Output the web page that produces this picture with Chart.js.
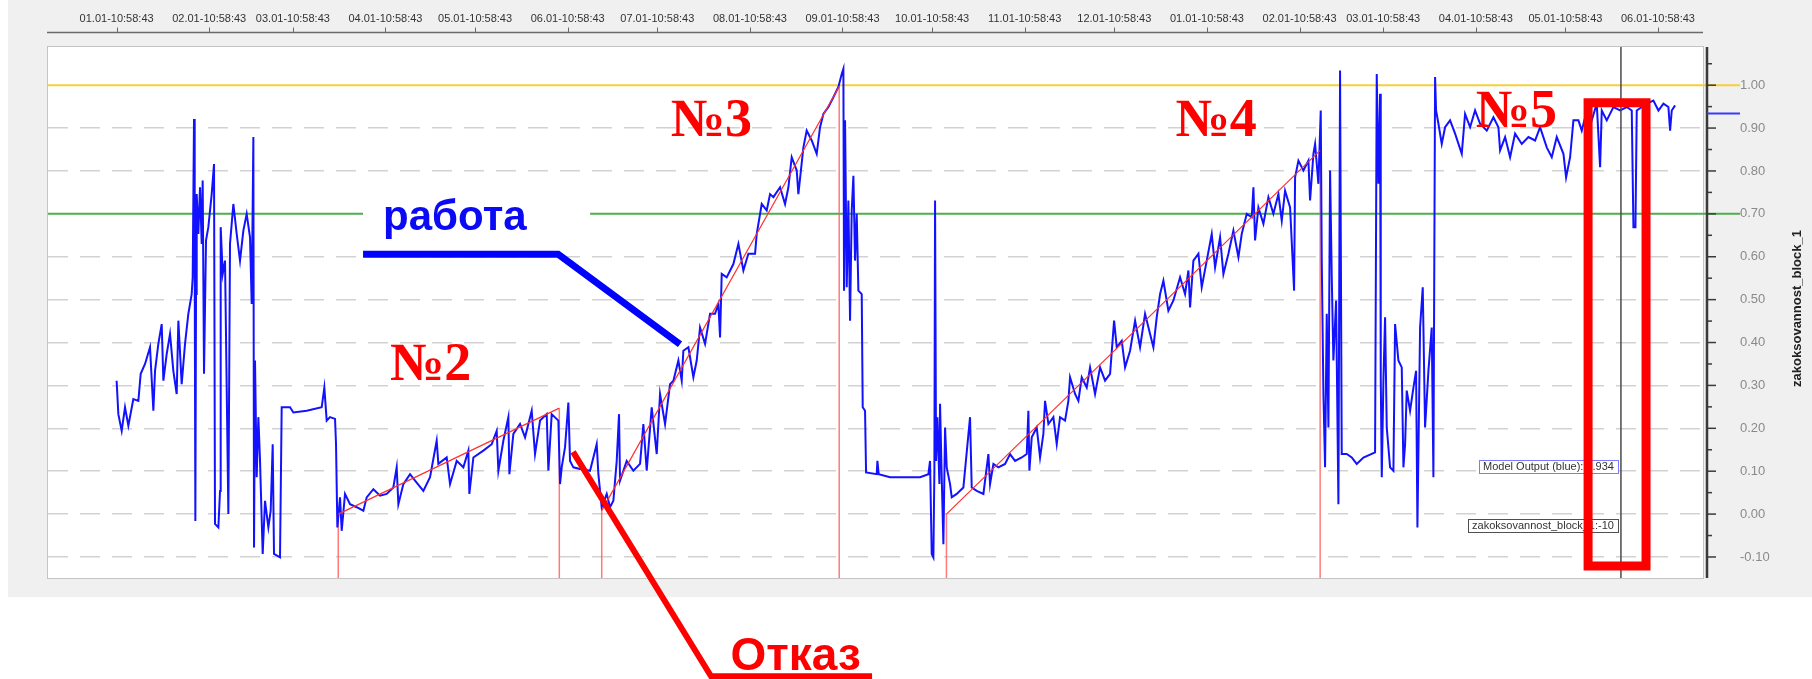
<!DOCTYPE html>
<html lang="ru">
<head>
  <meta charset="UTF-8">
  <title>zakoksovannost_block_1</title>
  <script src="https://cdn.jsdelivr.net/npm/chart.js"></script>
  <style>
    html, body { margin: 0; padding: 0; background: #fff; }
    canvas { display: block; }
  </style>
</head>
<body>
  <canvas id="chart" width="1812" height="679"></canvas>

  <script>
    // x is counted in days from the first "01.01-10:58:43" tick
    const monthLabels = [
      '01.01-10:58:43', '02.01-10:58:43', '03.01-10:58:43', '04.01-10:58:43', '05.01-10:58:43', '06.01-10:58:43',
      '07.01-10:58:43', '08.01-10:58:43', '09.01-10:58:43', '10.01-10:58:43', '11.01-10:58:43', '12.01-10:58:43',
      '01.01-10:58:43', '02.01-10:58:43', '03.01-10:58:43', '04.01-10:58:43', '05.01-10:58:43', '06.01-10:58:43'
    ];
    const monthDays = [0, 31, 59, 90, 120, 151, 181, 212, 243, 273, 304, 334, 365, 396, 424, 455, 485, 516];
    const yTicks = [-0.1, 0.0, 0.1, 0.2, 0.3, 0.4, 0.5, 0.6, 0.7, 0.8, 0.9, 1.0];

    const X_MIN = -22.97, X_MAX = 531.07;
    const Y_MIN = -0.149, Y_MAX = 1.089;

    // Model Output (blue)
    const outputDays = [
      0.00, 0.58, 1.70, 2.81, 3.93, 5.60, 7.28, 8.06, 9.51, 11.18, 12.30, 12.86, 13.97, 15.09, 15.65, 16.76,
      17.88, 18.99, 20.11, 20.67, 21.78, 22.90, 24.01, 25.13, 25.47, 25.91, 26.14, 26.36, 26.58, 26.81, 27.36,
      27.92, 28.48, 28.81, 29.26, 29.93, 30.71, 31.83, 32.61, 32.94, 34.06, 34.62, 34.84, 35.51, 36.29, 37.41,
      37.96, 39.08, 40.20, 41.31, 42.43, 43.54, 44.66, 45.22, 45.78, 46.00, 46.33, 46.89, 47.45, 48.01, 48.90,
      49.68, 50.80, 51.58, 52.25, 52.69, 54.70, 55.26, 58.05, 59.17, 63.63, 68.65, 69.54, 70.33, 71.44, 73.12,
      73.45, 73.90, 74.79, 75.35, 76.46, 78.14, 80.37, 82.60, 83.72, 85.95, 88.18, 90.41, 92.64, 93.76, 94.32,
      95.99, 98.23, 99.90, 102.69, 104.92, 107.15, 107.71, 110.50, 111.62, 113.85, 116.08, 117.75, 118.09,
      119.43, 122.77, 125.57, 127.24, 127.80, 129.47, 131.15, 131.48, 132.82, 135.05, 136.73, 138.96, 140.07,
      141.75, 143.98, 144.54, 145.65, 147.88, 148.44,
      149.00, 150.12, 151.23, 151.79, 152.91, 155.14, 158.49, 160.72, 161.28, 162.39, 164.07, 165.18, 166.30,
      167.42, 168.19, 168.53, 170.76, 172.99, 175.23, 176.34, 177.46, 179.13, 180.81, 181.92, 183.60, 185.27,
      186.39, 188.06, 189.18, 189.73, 191.41, 193.08, 194.20, 195.31, 196.99, 198.66, 200.33, 201.45, 202.01,
      202.57, 204.24, 206.47, 208.15, 209.82, 211.49, 213.73, 214.28, 215.96, 217.63, 218.75, 219.86, 222.10,
      223.77, 224.89, 226.00, 227.68, 228.23, 229.91, 231.02, 232.70, 234.37, 235.49, 236.60, 238.28, 239.95,
      241.62, 242.74, 243.30, 243.52, 243.86, 244.42, 244.97, 245.53, 246.09, 246.65, 247.20, 247.76, 248.32,
      249.44, 249.77, 250.55, 250.89, 254.46, 254.68, 255.13, 258.92, 268.97, 271.76, 272.31, 272.87, 273.43,
      273.76, 273.99, 274.32, 274.77, 275.44, 275.66, 276.22, 276.78, 277.34, 277.89, 279.01, 279.57, 281.24,
      283.47, 285.70, 286.26, 287.94, 290.17, 291.84, 292.40,
      293.52, 295.19, 297.42, 299.10, 300.77, 303.00, 304.68, 305.23, 305.57, 306.35, 308.02, 309.14, 310.25,
      310.81, 311.93, 313.60, 314.72, 315.83, 317.51, 318.62, 319.18, 320.86, 321.97, 323.09, 324.76, 325.88,
      327.55, 329.23, 330.90, 332.58, 333.92, 334.81, 336.48, 337.60, 339.27, 340.95, 342.62, 344.29, 345.97,
      347.08, 348.20, 349.32, 350.43, 352.10, 353.78, 356.01, 357.68, 358.80, 359.36, 360.47, 362.15, 363.26,
      364.94, 366.61, 367.73, 369.40, 370.52, 372.19, 373.86, 375.54, 376.65, 378.33, 380.00, 380.56, 381.12,
      382.23, 383.91, 385.58, 387.25, 388.93, 390.05, 391.16, 392.84, 394.18, 394.51, 395.63, 397.30, 398.97,
      399.53, 400.65, 401.21, 402.32, 403.10, 403.44, 404.00, 404.55, 405.11, 405.67, 406.23, 406.79, 407.34,
      408.24, 409.02, 409.57, 410.13, 411.81, 413.48, 415.15, 417.39, 421.29, 421.85, 422.41, 422.97, 423.19,
      423.53, 424.08, 424.64, 425.20, 426.31, 427.43, 427.99, 429.10, 430.22, 430.78, 431.34, 431.89, 433.01,
      434.13, 435.02, 435.47, 436.36, 437.25, 438.03, 439.15, 440.26, 440.82, 441.38,
      441.71, 442.50, 443.61, 444.73, 446.40, 448.08, 450.31, 451.42, 453.10, 454.77, 456.45, 458.68, 460.91,
      462.58, 463.14, 464.82, 466.49, 468.16, 470.40, 472.63, 474.86, 476.53, 478.76, 480.44, 482.11, 484.35,
      485.24, 486.58, 487.69, 489.37, 490.48, 492.16, 493.83, 495.50, 496.62, 497.18, 498.85, 501.08, 503.31,
      505.55, 507.22, 507.78, 508.45, 508.89, 510.57, 512.24, 514.47, 516.15, 517.82, 519.49, 520.05, 520.61,
      521.73
    ];
    const outputValues = [
      0.311, 0.233, 0.194, 0.249, 0.206, 0.268, 0.264, 0.327, 0.350, 0.389, 0.241, 0.334, 0.397, 0.443, 0.311, 0.373,
      0.420, 0.334, 0.280, 0.451, 0.303, 0.397, 0.467, 0.513, 0.552, 0.921, 0.591, -0.016, 0.513, 0.746, 0.653,
      0.762, 0.630, 0.778, 0.327, 0.638, 0.669, 0.746, 0.816, -0.023, -0.031, 0.054, 0.669, 0.560, 0.591, 0.000,
      0.630, 0.723, 0.653, 0.591, 0.661, 0.700, 0.645, 0.490, 0.879, -0.078, 0.358, 0.086, 0.226, 0.124, -0.093,
      0.031, -0.031, 0.008, 0.163, -0.093, -0.101, 0.249, 0.249, 0.237, 0.241, 0.249, 0.295, 0.218, 0.226, 0.222,
      0.163, -0.031, 0.039, -0.039, 0.047, 0.023, 0.016, 0.008, 0.039, 0.058, 0.043, 0.047, 0.062, 0.109, 0.023,
      0.070, 0.093, 0.078, 0.054, 0.086, 0.171, 0.117, 0.132, 0.070, 0.124, 0.109, 0.148, 0.047,
      0.132, 0.148, 0.163, 0.194, 0.101, 0.171, 0.226, 0.093, 0.187, 0.210, 0.179, 0.241, 0.140,
      0.218, 0.233, 0.101, 0.233, 0.218, 0.070,
      0.109, 0.156, 0.260, 0.124, 0.109, 0.105, 0.101, 0.163, 0.093, 0.016, 0.047, 0.016, 0.031,
      0.124, 0.233, 0.078, 0.124, 0.101, 0.117, 0.210, 0.101, 0.249, 0.140, 0.280, 0.210, 0.303,
      0.311, 0.358, 0.311, 0.381, 0.389, 0.319, 0.358, 0.435, 0.397, 0.467, 0.467, 0.490, 0.412,
      0.560, 0.552, 0.583, 0.630, 0.568, 0.607, 0.607, 0.653, 0.723, 0.708, 0.746, 0.739, 0.762,
      0.723, 0.762, 0.832, 0.801, 0.746, 0.855, 0.894, 0.871, 0.840, 0.902, 0.933, 0.949, 0.972,
      0.996, 1.026, 1.038, 0.521, 0.918, 0.529, 0.731, 0.451, 0.708, 0.789, 0.591, 0.700, 0.521,
      0.513, 0.249, 0.241, 0.097, 0.093, 0.124, 0.093, 0.086, 0.086, 0.093, 0.124, -0.093, -0.101,
      0.101, 0.731, 0.124, 0.226, 0.070, 0.257, 0.086, -0.070, 0.202, 0.109, 0.070, 0.039, 0.047,
      0.062, 0.226, 0.062, 0.054, 0.047, 0.140, 0.070,
      0.117, 0.109, 0.117, 0.140, 0.124, 0.132, 0.140, 0.241, 0.101, 0.179, 0.202, 0.132, 0.187,
      0.264, 0.210, 0.226, 0.163, 0.226, 0.218, 0.264, 0.319, 0.280, 0.264, 0.319, 0.295, 0.342,
      0.280, 0.342, 0.311, 0.327, 0.451, 0.389, 0.404, 0.342, 0.381, 0.451, 0.389, 0.467, 0.420,
      0.389, 0.459, 0.513, 0.544, 0.474, 0.498, 0.552, 0.513, 0.568, 0.482, 0.591, 0.607, 0.529,
      0.591, 0.653, 0.575, 0.645, 0.560, 0.607, 0.661, 0.599, 0.653, 0.700, 0.692, 0.762, 0.638,
      0.715, 0.677, 0.739, 0.700, 0.746, 0.684, 0.754, 0.715, 0.521, 0.785, 0.824, 0.801, 0.824,
      0.731, 0.840, 0.863, 0.770, 0.941, 0.591, 0.280, 0.109, 0.467, 0.202, 0.801, 0.552, 0.358,
      0.498, 0.023, 1.034, 0.140, 0.140, 0.132, 0.117, 0.132, 0.144, 1.026, 0.770, 0.980, 0.319,
      0.086, 0.311, 0.459, 0.202, 0.109, 0.101, 0.443, 0.358, 0.342, 0.109, 0.163, 0.288, 0.241,
      0.295, 0.334, -0.031, 0.435, 0.529, 0.202, 0.334, 0.435, 0.086, 1.019,
      0.941, 0.910, 0.863, 0.902, 0.918, 0.887, 0.840, 0.933, 0.902, 0.941, 0.910, 0.894, 0.925,
      0.902, 0.848, 0.879, 0.832, 0.887, 0.863, 0.879, 0.871, 0.902, 0.855, 0.832, 0.879, 0.840,
      0.785, 0.832, 0.918, 0.918, 0.894, 0.941, 0.918, 0.957, 0.809, 0.941, 0.918, 0.949, 0.941,
      0.949, 0.941, 0.669, 0.669, 0.941, 0.949, 0.957, 0.964, 0.941, 0.957, 0.949, 0.894, 0.941,
      0.953
    ];

    // red trend lines of runs №2, №3, №4 (start and end of each run)
    const runStartDays = [74.2, 162.4, 277.8];
    const runStartValues = [0.000, 0.008, 0.000];
    const runEndDays = [148.2, 241.9, 402.9];
    const runEndValues = [0.247, 0.997, 0.848];

    // yellow and green limit lines
    const limitValues = [1.0, 0.7];
    const limitColors = ['#f7cf3a', '#4caf4c'];
    const LIMIT_END = 543.5;   // lines run on through the axis up to the labels

    const cursorDay = 503.6;
    const currentValue = 0.934;

    const outputPoints = outputDays.map((d, i) => ({ x: d, y: outputValues[i] }));
    const trendPoints = [];
    const markPoints = [];
    runStartDays.forEach((s, i) => {
      const e = runEndDays[i];
      trendPoints.push({ x: s, y: runStartValues[i] }, { x: e, y: runEndValues[i] }, { x: e, y: null });
      markPoints.push({ x: s, y: Y_MIN }, { x: s, y: runStartValues[i] }, { x: s, y: null });
      markPoints.push({ x: e, y: Y_MIN }, { x: e, y: runEndValues[i] }, { x: e, y: null });
    });

    const SANS = '"Liberation Sans", Arial, sans-serif';
    const SERIF = '"Liberation Serif", "Times New Roman", serif';

    function line(ctx, pts) {
      ctx.beginPath();
      ctx.moveTo(pts[0][0], pts[0][1]);
      for (let i = 1; i < pts.length; i++) ctx.lineTo(pts[i][0], pts[i][1]);
      ctx.stroke();
    }

    function tag(ctx, text, right, cy, border) {
      ctx.font = '11px ' + SANS;
      const w = ctx.measureText(text).width + 8;
      ctx.fillStyle = '#ffffff';
      ctx.fillRect(right - w, cy - 6.5, w, 13);
      ctx.strokeStyle = border;
      ctx.lineWidth = 1;
      ctx.strokeRect(Math.round(right - w) + 0.5, Math.round(cy - 6.5) + 0.5, Math.round(w), 13);
      ctx.fillStyle = '#333';
      ctx.textAlign = 'left';
      ctx.textBaseline = 'middle';
      ctx.fillText(text, right - w + 4, cy + 0.5);
    }

    const decor = {
      id: 'decor',
      beforeDraw(chart) {
        const { ctx, chartArea: a, width, height } = chart;
        ctx.save();
        ctx.fillStyle = '#ffffff';
        ctx.fillRect(0, 0, width, height);
        ctx.fillStyle = '#f0f0f0';
        ctx.fillRect(8, 0, width - 8, 597);
        ctx.fillStyle = '#ffffff';
        ctx.fillRect(a.left, a.top, a.right - a.left, a.bottom - a.top);
        ctx.strokeStyle = '#c4c4c4';
        ctx.lineWidth = 1;
        ctx.strokeRect(a.left - 0.5, a.top - 0.5, a.right - a.left + 1, a.bottom - a.top + 1);
        ctx.restore();
      },
      afterDraw(chart) {
        const { ctx, chartArea: a } = chart;
        const xs = chart.scales.x, ys = chart.scales.y;
        const px = d => xs.getPixelForValue(d);
        const py = v => ys.getPixelForValue(v);
        ctx.save();

        // time axis line on top
        const axisY = a.top - 14.5;
        ctx.strokeStyle = '#6a6a6a';
        ctx.lineWidth = 1.5;
        line(ctx, [[a.left - 1, axisY], [a.right, axisY]]);
        ctx.lineWidth = 1;
        monthDays.forEach(d => {
          const X = Math.round(px(d)) + 0.5;
          line(ctx, [[X, axisY - 5], [X, axisY]]);
        });

        // value axis on the right
        const axX = a.right + 4;
        ctx.strokeStyle = '#3a3a3a';
        ctx.lineWidth = 2.5;
        line(ctx, [[axX, a.top], [axX, a.bottom]]);
        ctx.lineWidth = 1.5;
        yTicks.forEach(v => {
          line(ctx, [[axX, py(v)], [axX + 9, py(v)]]);
          const m = v + 0.05;
          if (m < Y_MAX) line(ctx, [[axX, py(m)], [axX + 5, py(m)]]);
        });
        ctx.strokeStyle = '#3a3aff';
        ctx.lineWidth = 2;
        line(ctx, [[axX, py(currentValue)], [axX + 33, py(currentValue)]]);

        ctx.save();
        ctx.translate(a.right + 94, (a.top + a.bottom) / 2 - 4);
        ctx.rotate(-Math.PI / 2);
        ctx.fillStyle = '#222';
        ctx.font = 'bold 13px ' + SANS;
        ctx.textAlign = 'center';
        ctx.textBaseline = 'middle';
        ctx.fillText('zakoksovannost_block_1', 0, 0);
        ctx.restore();

        // cursor and its value tags
        const cx = px(cursorDay);
        ctx.strokeStyle = '#4a4a4a';
        ctx.lineWidth = 1.5;
        line(ctx, [[cx, a.top], [cx, a.bottom]]);
        tag(ctx, 'Model Output (blue): 0.934', cx - 3, py(0.112), '#7b7bff');
        tag(ctx, 'zakoksovannost_block_1:-10', cx - 3, py(-0.026), '#505050');

        // "работа" callout
        ctx.fillStyle = '#ffffff';
        ctx.fillRect(px(82.5), py(0.774), px(158.5) - px(82.5), py(0.615) - py(0.774));
        ctx.fillStyle = '#0a0af5';
        ctx.font = 'bold 42px ' + SANS;
        ctx.textAlign = 'left';
        ctx.textBaseline = 'alphabetic';
        ctx.fillText('работа', px(89.2), py(0.662));
        ctx.strokeStyle = '#0000ff';
        ctx.lineWidth = 7;
        ctx.lineJoin = 'miter';
        line(ctx, [[px(82.5), py(0.606)], [px(147.8), py(0.606)], [px(188.6), py(0.396)]]);

        // "Отказ" callout
        ctx.strokeStyle = '#ff0000';
        ctx.lineWidth = 6;
        line(ctx, [[px(152.8), py(0.145)], [px(199.0), py(-0.378)], [px(252.9), py(-0.378)]]);
        ctx.fillStyle = '#ff0000';
        ctx.font = 'bold 46px ' + SANS;
        ctx.fillText('Отказ', px(205.5), py(-0.364));

        // run numbers
        ctx.font = 'bold 54px ' + SERIF;
        ctx.fillText('№2', px(91.5), py(0.312));
        ctx.fillText('№3', px(185.5), py(0.881));
        ctx.fillText('№4', px(354.5), py(0.881));
        ctx.fillText('№5', px(455.0), py(0.902));

        // highlight frame
        ctx.strokeStyle = '#ff0000';
        ctx.lineWidth = 9;
        ctx.strokeRect(px(492.6), py(0.959), px(512.0) - px(492.6), py(-0.121) - py(0.959));

        ctx.restore();
      }
    };

    const datasets = [
      { label: 'trend', data: trendPoints, borderColor: '#ff3030', borderWidth: 1.2, order: 0 },
      { label: 'Model Output (blue)', data: outputPoints, borderColor: '#1212ff', borderWidth: 2, order: 1 },
      { label: 'marks', data: markPoints, borderColor: 'rgba(255, 90, 90, 0.8)', borderWidth: 1.5, order: 2 }
    ];
    limitValues.forEach((v, i) => {
      datasets.push({
        label: 'limit ' + v,
        data: [{ x: X_MIN, y: v }, { x: LIMIT_END, y: v }],
        borderColor: limitColors[i],
        borderWidth: 2,
        clip: false,
        order: 3
      });
    });

    const isLimit = v => limitValues.some(l => Math.abs(l - v) < 1e-6);

    new Chart(document.getElementById('chart').getContext('2d'), {
      type: 'line',
      data: { datasets },
      options: {
        responsive: false,
        animation: false,
        devicePixelRatio: 1,
        layout: { padding: { left: 48, top: 0, right: 0, bottom: 101 } },
        elements: { point: { radius: 0 }, line: { tension: 0, fill: false } },
        plugins: { legend: { display: false }, tooltip: { enabled: false } },
        scales: {
          x: {
            type: 'linear',
            position: 'top',
            min: X_MIN,
            max: X_MAX,
            afterBuildTicks: s => { s.ticks = monthDays.map(v => ({ value: v })); },
            afterFit: s => { s.height = 47; },
            grid: { display: false, drawTicks: false },
            border: { display: false },
            ticks: {
              autoSkip: false,
              maxRotation: 0,
              minRotation: 0,
              padding: 21,
              color: '#333',
              font: { family: SANS, size: 11 },
              callback: (v, i) => monthLabels[i]
            }
          },
          y: {
            type: 'linear',
            position: 'right',
            min: Y_MIN,
            max: Y_MAX,
            afterBuildTicks: s => { s.ticks = yTicks.map(v => ({ value: v })); },
            afterFit: s => { s.width = 109; },
            grid: {
              drawTicks: false,
              lineWidth: 1.5,
              color: c => (c.tick && isLimit(c.tick.value)) ? 'rgba(0,0,0,0)' : '#d2d2d2'
            },
            border: { display: false, dash: [20, 12] },
            ticks: {
              padding: 37,
              color: '#8a8a8a',
              font: { family: SANS, size: 13 },
              callback: v => v.toFixed(2)
            }
          }
        }
      },
      plugins: [decor]
    });
  </script>
</body>
</html>
